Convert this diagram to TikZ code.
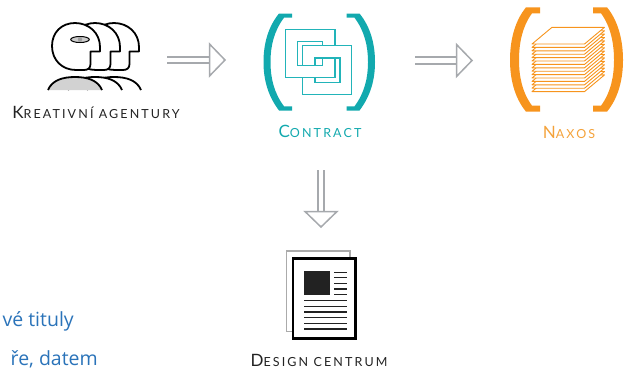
\documentclass[tikz,border=0pt]{standalone}
\usepackage{fontspec}
\setmainfont{Lato}
\newfontfamily\bluefont{Open Sans}
\usetikzlibrary{calc}
\definecolor{tealbr}{HTML}{12A9AE}
\definecolor{tealsq}{HTML}{22B4B9}
\definecolor{orng}{HTML}{F7941D}
\definecolor{orlab}{HTML}{F4A23A}
\definecolor{arrgray}{HTML}{A6A9AD}
\definecolor{txtblue}{HTML}{2A73B9}
\definecolor{darktxt}{HTML}{222222}
\definecolor{backpage}{HTML}{ABABAB}
\newcommand\smc[2]{{\addfontfeature{LetterSpace=17}\fontsize{17}{17}\selectfont #1\fontsize{12.5}{13}\selectfont #2}}
\tikzset{
  lab/.style={inner sep=0pt, anchor=base, text=darktxt},
  bluet/.style={inner sep=0pt, anchor=base east, text=txtblue, font=\bluefont\fontsize{19.5}{23}\selectfont},
  arrshaft/.style={draw=arrgray, line width=2pt, double=white, double distance=4.5pt},
  arrhead/.style={draw=arrgray, line width=1.5pt, fill=white, line join=miter},
  headline/.style={draw=black, line width=1.8pt, fill=white, line join=round},
  ring/.style={draw=tealsq, line width=1.1pt},
  sheet/.style={draw=orng, line width=0.9pt, fill=white, line join=round},
  docline/.style={draw=darktxt, line width=1.2pt},
}
\begin{document}
\begin{tikzpicture}[x=1pt,y=-1pt]
\useasboundingbox (0,0) rectangle (628,370);

% ---------- Kreativni agentury (people icon) ----------
\foreach \dx in {39,20} {
  \begin{scope}[xshift=\dx pt]
    \draw[headline] (48,90) .. controls (52,80.5) and (62,77) .. (75,77) .. controls (88,77) and (98,80.5) .. (102,90);
    \draw[headline] (100,47) -- (100,51.5) -- (90.5,51.5) -- (90.5,64) .. controls (90.5,68) and (88,70) .. (84,70) -- (76,70) .. controls (62,70) and (52,60) .. (52,46) .. controls (52,32) and (62,23) .. (75,23) .. controls (89,23) and (100,33) .. (100,47) -- cycle;
  \end{scope}
}
\draw[headline, fill=gray!35] (48,90) .. controls (52,80.5) and (62,77) .. (75,77) .. controls (88,77) and (98,80.5) .. (102,90);
\draw[headline] (100,47) -- (100,51.5) -- (90.5,51.5) -- (90.5,64) .. controls (90.5,68) and (88,70) .. (84,70) -- (76,70) .. controls (62,70) and (52,60) .. (52,46) .. controls (52,32) and (62,23) .. (75,23) .. controls (89,23) and (100,33) .. (100,47) -- cycle;
\draw[black, line width=1pt, fill=gray!40] (80,39.5) ellipse [x radius=9.3pt, y radius=3pt];
\fill[gray!75] (80,39.5) circle [radius=2.2pt];
\node[lab] (kreL) at (96,118) {\smc{K}{REATIVNÍ AGENTURY}};

% ---------- Contract ----------
\begin{scope}
  \fill[tealbr] (292,13.5) -- (279,13.5) .. controls (268,27) and (263.5,44) .. (263.5,62) .. controls (263.5,80) and (268,96) .. (279,110.5) -- (292,110.5) -- (292,106.3) -- (284,106.3) .. controls (274,93) and (270.5,78) .. (270.5,62) .. controls (270.5,46) and (274,31) .. (284,17.7) -- (292,17.7) -- cycle;
\end{scope}
\begin{scope}[shift={(638.5,0)}, xscale=-1]
  \fill[tealbr] (292,13.5) -- (279,13.5) .. controls (268,27) and (263.5,44) .. (263.5,62) .. controls (263.5,80) and (268,96) .. (279,110.5) -- (292,110.5) -- (292,106.3) -- (284,106.3) .. controls (274,93) and (270.5,78) .. (270.5,62) .. controls (270.5,46) and (274,31) .. (284,17.7) -- (292,17.7) -- cycle;
\end{scope}
% interlocked square rings
\fill[white, even odd rule] (285.7,29.3) rectangle (335,77.7) (297.3,41.3) rectangle (322.7,65.3);
\draw[ring] (285.7,29.3) rectangle (335,77.7) (297.3,41.3) rectangle (322.7,65.3);
\fill[white, even odd rule] (302.3,45.3) rectangle (351.7,94.3) (315,58) rectangle (340,82.7);
\draw[ring] (302.3,45.3) rectangle (351.7,94.3) (315,58) rectangle (340,82.7);
\fill[white] (301.5,65.9) rectangle (315.8,77.1);
\draw[ring] (301.4,65.3) -- (315.9,65.3) (301.4,77.7) -- (315.9,77.7);
\node[lab, text=tealbr] (conL) at (320,137) {\smc{C}{ONTRACT}};

% ---------- Naxos ----------
\fill[orng] (540,7.3) -- (526,7.3) .. controls (514,22) and (510,42) .. (510,60) .. controls (510,78) and (514,97) .. (526,111.7) -- (540,111.7) -- (540,105.7) -- (532,105.7) .. controls (522,92) and (519,76) .. (519,60) .. controls (519,44) and (522,27) .. (532,13.3) -- (540,13.3) -- cycle;
\begin{scope}[shift={(1133,0)}, xscale=-1]
\fill[orng] (540,7.3) -- (526,7.3) .. controls (514,22) and (510,42) .. (510,60) .. controls (510,78) and (514,97) .. (526,111.7) -- (540,111.7) -- (540,105.7) -- (532,105.7) .. controls (522,92) and (519,76) .. (519,60) .. controls (519,44) and (522,27) .. (532,13.3) -- (540,13.3) -- cycle;
\end{scope}
\foreach \i in {14,13,...,0} {
  \pgfmathsetmacro\yy{44+\i*3.4}
  \draw[sheet] (532,\yy) -- (584.5,\yy) -- (604.5,{\yy-16.7}) -- (552,{\yy-16.7}) -- cycle;
}
\node[lab, text=orlab] (naxL) at (569,138) {\smc{N}{AXOS}};

% ---------- Design centrum (document icon) ----------
\draw[draw=backpage, line width=1.8pt, fill=white] (286.5,251) rectangle (350,331.5);
\draw[black, line width=2.6pt, fill=white] (293,258.5) rectangle (355.5,338.5);
\fill[darktxt] (304,271) rectangle (329.5,295);
\foreach \y in {272.3,277.7,283.3,289,294.3} \draw[docline] (334,\y) -- (346.5,\y);
\foreach \y in {300.7,306.5,312,317.6,323.2,329} \draw[docline] (304,\y) -- (346.5,\y);
\node[lab] (desL) at (319,366.5) {\smc{D}{ESIGN CENTRUM}};

% ---------- arrows ----------
\coordinate (a1s) at (167,60);
\coordinate (a1b) at (209.5,60);
\coordinate (a1t) at (225,60);
\draw[arrshaft] (a1s) -- ($(a1b)+(1,0)$);
\draw[arrhead] ($(a1b)+(0,-16)$) -- (a1t) -- ($(a1b)+(0,16)$) -- cycle;

\coordinate (a2s) at (415,60.5);
\coordinate (a2b) at (456.5,60.5);
\coordinate (a2t) at (472,60.5);
\draw[arrshaft] (a2s) -- ($(a2b)+(1,0)$);
\draw[arrhead] ($(a2b)+(0,-16)$) -- (a2t) -- ($(a2b)+(0,16)$) -- cycle;

\coordinate (a3s) at (321,170);
\coordinate (a3b) at (321,211.5);
\coordinate (a3t) at (321,227);
\draw[arrshaft] (a3s) -- ($(a3b)+(0,1)$);
\draw[arrhead] ($(a3b)+(-16,0)$) -- (a3t) -- ($(a3b)+(16,0)$) -- cycle;

% ---------- blue text ----------
\node[bluet] (blue1) at (74,326) {vé tituly};
\node[bluet] (blue2) at (98,365) {ře, datem};
\end{tikzpicture}
\end{document}
